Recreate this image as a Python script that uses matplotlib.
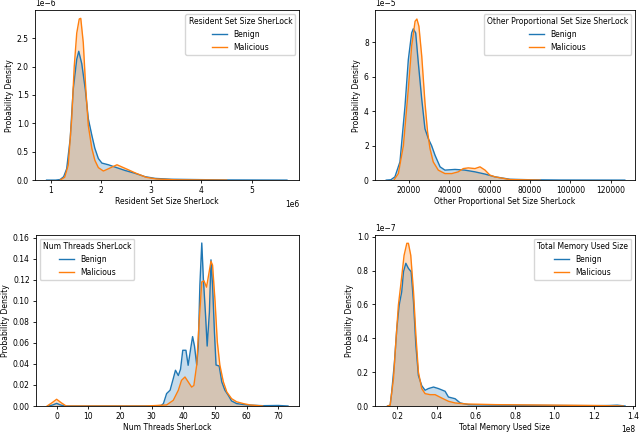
import matplotlib
matplotlib.use("Agg")
import matplotlib.pyplot as plt
import numpy as np

plt.rcParams['font.size'] = 5.5

BLUE = '#1f77b4'
ORANGE = '#ff7f0e'

# Resident Set Size SherLock (x in bytes)
rss_benign_x = [0.92e6, 1.1e6, 1.19e6, 1.26e6, 1.32e6, 1.39e6, 1.45e6, 1.52e6, 1.56e6,
                1.62e6, 1.69e6, 1.75e6, 1.82e6, 1.88e6, 1.95e6, 2.02e6, 2.15e6, 2.28e6,
                2.48e6, 2.68e6, 2.88e6, 3.08e6, 3.4e6, 4.0e6, 4.5e6, 5.7e6]
rss_benign_y = [0, 0, 0.01e-6, 0.06e-6, 0.2e-6, 0.73e-6, 1.6e-6, 2.13e-6, 2.27e-6,
                2.05e-6, 1.6e-6, 1.08e-6, 0.79e-6, 0.56e-6, 0.38e-6, 0.3e-6, 0.27e-6, 0.23e-6,
                0.17e-6, 0.12e-6, 0.06e-6, 0.03e-6, 0.015e-6, 0.008e-6, 0.003e-6, 0]
rss_mal_x = [1.19e6, 1.28e6, 1.35e6, 1.42e6, 1.47e6, 1.52e6, 1.57e6, 1.6e6, 1.65e6,
             1.7e6, 1.75e6, 1.82e6, 1.88e6, 1.95e6, 2.05e6, 2.15e6, 2.32e6, 2.5e6,
             2.7e6, 2.9e6, 3.1e6, 3.5e6, 4.5e6]
rss_mal_y = [0, 0.05e-6, 0.26e-6, 1.08e-6, 2.0e-6, 2.59e-6, 2.84e-6, 2.85e-6, 2.42e-6,
             1.6e-6, 0.96e-6, 0.56e-6, 0.35e-6, 0.22e-6, 0.16e-6, 0.2e-6, 0.27e-6, 0.2e-6,
             0.12e-6, 0.05e-6, 0.02e-6, 0.005e-6, 0]

# Other Proportional Set Size SherLock
pss_benign_x = [8700, 11000, 13000, 15500, 18000, 19650, 21300, 22100, 23300, 24600,
                26300, 27900, 29600, 31200, 32900, 35400, 37800, 42800, 47700, 52700,
                57700, 62600, 70000, 80000, 95000, 127000]
pss_benign_y = [0, 0.02e-5, 0.19e-5, 1.06e-5, 4.3e-5, 7.0e-5, 8.55e-5, 8.79e-5, 8.55e-5, 6.82e-5,
                4.7e-5, 2.98e-5, 2.4e-5, 2.0e-5, 1.44e-5, 0.77e-5, 0.58e-5, 0.62e-5, 0.58e-5, 0.48e-5,
                0.35e-5, 0.19e-5, 0.05e-5, 0.02e-5, 0.005e-5, 0]
pss_mal_x = [12500, 14700, 17200, 19650, 21300, 23000, 23900, 24900, 26300, 27900,
             29200, 30400, 32000, 34500, 37800, 41200, 44400, 46900, 49400, 52700,
             55200, 57700, 60100, 62600, 70000, 85000]
pss_mal_y = [0, 0.38e-5, 2.0e-5, 5.3e-5, 7.8e-5, 9.23e-5, 9.36e-5, 8.94e-5, 7.2e-5, 4.5e-5,
             2.79e-5, 1.83e-5, 1.06e-5, 0.58e-5, 0.38e-5, 0.38e-5, 0.48e-5, 0.67e-5, 0.71e-5, 0.67e-5,
             0.77e-5, 0.58e-5, 0.29e-5, 0.19e-5, 0.03e-5, 0]

# Num Threads SherLock
thr_benign_x = [-2.5, -1.2, 0, 1.2, 2.5, 30, 33, 33.7, 34.7, 35.8, 36.8, 37.5, 38.4, 39.1,
                39.8, 40.8, 41.5, 42.3, 42.9, 43.5, 44.2, 44.7, 45.2, 45.8, 46.3,
                47.0, 47.5, 48.2, 48.7, 49.2, 49.8, 50.3, 51.3, 52.1, 53.1, 54.2,
                55.2, 56.8, 60, 65, 70, 73]
thr_benign_y = [0, 0.001, 0.0025, 0.001, 0, 0, 0.0005, 0.0023, 0.0118, 0.015, 0.026, 0.034, 0.029, 0.035,
                0.053, 0.053, 0.0387, 0.0546, 0.066, 0.057, 0.039, 0.057, 0.115, 0.155, 0.121,
                0.086, 0.057, 0.089, 0.139, 0.115, 0.070, 0.039, 0.038, 0.023, 0.015, 0.010,
                0.0048, 0.0023, 0.001, 0.0003, 0.0005, 0]
thr_mal_x = [-3, -1.5, 0, 1.5, 3, 28, 31.6, 34.7, 36.8, 38.4, 39.4, 40.5, 41.5, 42.6, 43.3,
             44.2, 44.9, 45.8, 46.5, 47.3, 48.1, 48.7, 49.2, 50.0, 50.7, 51.5,
             52.6, 53.7, 55.2, 56.8, 58.9, 61, 65]
thr_mal_y = [0, 0.003, 0.0064, 0.003, 0, 0, 0.0005, 0.001, 0.0054, 0.015, 0.0244, 0.0276, 0.023, 0.018, 0.0195,
             0.039, 0.077, 0.118, 0.119, 0.113, 0.127, 0.1376, 0.134, 0.099, 0.061, 0.039,
             0.023, 0.0133, 0.007, 0.004, 0.0023, 0.001, 0]

# Total Memory Used Size
mem_benign_x = [0.15e8, 0.163e8, 0.171e8, 0.185e8, 0.197e8, 0.209e8, 0.222e8, 0.231e8, 0.243e8,
                0.256e8, 0.27e8, 0.282e8, 0.294e8, 0.307e8, 0.324e8, 0.341e8, 0.358e8,
                0.384e8, 0.409e8, 0.443e8, 0.46e8, 0.494e8, 0.52e8, 0.562e8, 0.7e8,
                1.0e8, 1.2e8, 1.28e8, 1.32e8, 1.36e8]
mem_benign_y = [0, 0.005e-7, 0.083e-7, 0.26e-7, 0.458e-7, 0.596e-7, 0.675e-7, 0.793e-7, 0.843e-7,
                0.813e-7, 0.793e-7, 0.615e-7, 0.36e-7, 0.18e-7, 0.12e-7, 0.093e-7, 0.103e-7,
                0.112e-7, 0.103e-7, 0.087e-7, 0.053e-7, 0.043e-7, 0.018e-7, 0.008e-7, 0.005e-7,
                0.003e-7, 0.002e-7, 0.003e-7, 0.005e-7, 0]
mem_mal_x = [0.15e8, 0.163e8, 0.18e8, 0.191e8, 0.205e8, 0.219e8, 0.234e8, 0.248e8, 0.256e8,
             0.268e8, 0.282e8, 0.294e8, 0.307e8, 0.324e8, 0.341e8, 0.367e8, 0.392e8,
             0.426e8, 0.46e8, 0.494e8, 0.55e8, 0.7e8, 1.0e8, 1.2e8, 1.3e8, 1.35e8]
mem_mal_y = [0, 0.005e-7, 0.162e-7, 0.36e-7, 0.596e-7, 0.734e-7, 0.89e-7, 0.961e-7, 0.961e-7,
             0.89e-7, 0.675e-7, 0.42e-7, 0.2e-7, 0.103e-7, 0.073e-7, 0.067e-7, 0.067e-7,
             0.047e-7, 0.028e-7, 0.018e-7, 0.012e-7, 0.008e-7, 0.005e-7, 0.003e-7, 0.001e-7, 0]


def kde_panel(ax, bx, by, mx, my, title, loc, xlim, ylim):
    ax.plot(bx, by, color=BLUE, lw=1.0, label='Benign')
    ax.fill_between(bx, by, color=BLUE, alpha=0.25, lw=0)
    ax.plot(mx, my, color=ORANGE, lw=1.0, label='Malicious')
    ax.fill_between(mx, my, color=ORANGE, alpha=0.25, lw=0)
    ax.set_xlim(*xlim)
    ax.set_ylim(*ylim)
    ax.set_xlabel(title, labelpad=1.5)
    ax.set_ylabel('Probability Density', labelpad=2)
    ax.legend(title=title, loc=loc, fontsize=5.5, title_fontsize=5.5)
    ax.tick_params(labelsize=5.5, length=2.5, width=0.6, pad=2)
    ax.xaxis.get_offset_text().set_fontsize(5.5)
    ax.yaxis.get_offset_text().set_fontsize(5.5)
    for s in ax.spines.values():
        s.set_linewidth(0.6)


fig = plt.figure(figsize=(6.4, 4.34), dpi=100)
ax1 = fig.add_axes([0.0547, 0.585, 0.4125, 0.391])
ax2 = fig.add_axes([0.586, 0.585, 0.406, 0.391])
ax3 = fig.add_axes([0.0563, 0.0645, 0.411, 0.394])
ax4 = fig.add_axes([0.586, 0.0645, 0.406, 0.394])

kde_panel(ax1, rss_benign_x, rss_benign_y, rss_mal_x, rss_mal_y,
          'Resident Set Size SherLock', 'upper right', (0.69e6, 5.94e6), (0, 2.99e-6))
kde_panel(ax2, pss_benign_x, pss_benign_y, pss_mal_x, pss_mal_y,
          'Other Proportional Set Size SherLock', 'upper right', (3140, 132000), (0, 9.86e-5))
kde_panel(ax3, thr_benign_x, thr_benign_y, thr_mal_x, thr_mal_y,
          'Num Threads SherLock', 'upper left', (-6.5, 76.5), (0, 0.1626))
kde_panel(ax4, mem_benign_x, mem_benign_y, mem_mal_x, mem_mal_y,
          'Total Memory Used Size', 'upper right', (0.086e8, 1.41e8), (0, 1.01e-7))

fig.savefig('out.png', dpi=100)
